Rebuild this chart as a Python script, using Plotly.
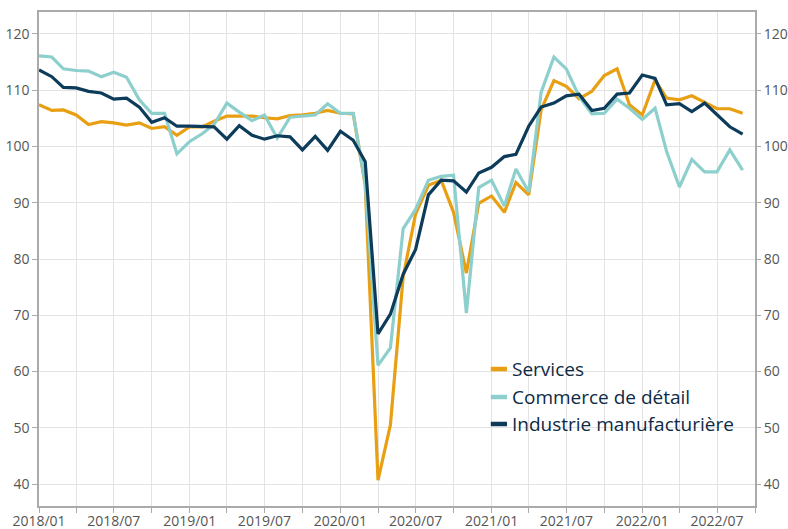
import pandas as pd
import plotly.graph_objects as go

months = pd.date_range("2018-01-01", periods=57, freq="MS")

services = [107.4, 106.4, 106.5, 105.6, 103.9, 104.4, 104.2, 103.8, 104.2, 103.2,
            103.5, 102.0, 103.5, 103.5, 104.5, 105.4, 105.4, 105.4, 105.1, 104.9,
            105.5, 105.6, 105.9, 106.4, 105.9, 105.8, 93.1, 40.7, 50.5, 76.9,
            88.0, 93.1, 94.0, 88.3, 77.5, 89.9, 91.2, 88.3, 93.6, 91.4,
            106.5, 111.7, 110.7, 108.5, 109.8, 112.6, 113.8, 107.4, 105.6, 111.8,
            108.6, 108.3, 109.0, 107.8, 106.7, 106.7, 105.9]

commerce = [116.1, 115.9, 113.8, 113.5, 113.4, 112.4, 113.2, 112.3, 108.3, 105.9,
            105.9, 98.7, 100.9, 102.3, 103.9, 107.7, 106.1, 104.6, 105.6, 101.5,
            105.2, 105.4, 105.6, 107.6, 105.9, 105.9, 93.4, 61.1, 64.2, 85.4,
            88.8, 94.0, 94.7, 94.9, 70.4, 92.7, 94.0, 89.4, 96.0, 91.9,
            109.6, 115.9, 113.8, 108.9, 105.8, 105.9, 108.4, 106.8, 104.8, 106.8,
            99.1, 92.8, 97.7, 95.5, 95.5, 99.4, 95.8]

industrie = [113.6, 112.4, 110.5, 110.4, 109.8, 109.5, 108.4, 108.6, 107.0, 104.3,
             105.1, 103.6, 103.6, 103.6, 103.5, 101.3, 103.7, 102.0, 101.3, 101.9,
             101.7, 99.4, 101.8, 99.3, 102.7, 101.1, 97.3, 66.7, 70.2, 77.3,
             81.7, 91.4, 94.0, 93.9, 91.9, 95.3, 96.3, 98.2, 98.6, 103.6,
             107.0, 107.7, 109.0, 109.3, 106.4, 106.8, 109.3, 109.5, 112.7, 112.1,
             107.4, 107.6, 106.2, 107.7, 105.6, 103.5, 102.2]

names = ["Services", "Commerce de détail", "Industrie manufacturière"]
colors = ["#E89F12", "#8DCFCD", "#0D3B5A"]
y_ticks = [40, 50, 60, 70, 80, 90, 100, 110, 120]
y_range = [36.1, 123.9]

fig = go.Figure()
for name, vals, col in zip(names, [services, commerce, industrie], colors):
    fig.add_trace(go.Scatter(x=months, y=vals, name=name, mode="lines",
                             showlegend=False,
                             line=dict(color=col, width=3.2)))
# invisible trace for right axis
fig.add_trace(go.Scatter(x=[months[0]], y=[services[0]], yaxis="y2",
                         showlegend=False, hoverinfo="skip",
                         mode="lines", line=dict(width=0), opacity=0))

# custom legend (short line symbols like the reference)
leg_y = [0.2773, 0.2206, 0.1660]
for name, col, yy in zip(names, colors, leg_y):
    fig.add_shape(type="line", xref="paper", yref="paper",
                  x0=0.631, x1=0.6536, y0=yy, y1=yy,
                  line=dict(color=col, width=4.5))
    fig.add_annotation(xref="paper", yref="paper", x=0.658, y=yy,
                       xanchor="left", yanchor="middle", text=name,
                       showarrow=False,
                       font=dict(family="Open Sans, sans-serif", size=19,
                                 color="#0D2A45"))

axis_font = dict(family="Open Sans, sans-serif", size=14, color="#555555")
fig.update_layout(
    width=788, height=529,
    margin=dict(l=39, r=33, t=12, b=23),
    paper_bgcolor="white", plot_bgcolor="white",
    showlegend=False,
    xaxis=dict(type="date", range=["2018-01-01", "2022-10-01"],
               tick0="2018-01-01", dtick="M6", tickformat="%Y/%m",
               ticks="outside", ticklen=5, tickcolor="#aaaaaa",
               ticklabelstandoff=-4,
               showgrid=True, gridcolor="#e3e3e3", gridwidth=1,
               minor=dict(dtick="M3", showgrid=True, gridcolor="#e3e3e3",
                          ticks="outside", ticklen=5, tickcolor="#aaaaaa"),
               showline=True, linecolor="#aaaaaa", linewidth=1.5, mirror=True,
               tickfont=axis_font, zeroline=False, automargin=False),
    yaxis=dict(range=y_range, tickvals=y_ticks, ticks="outside", ticklen=5,
               tickcolor="#aaaaaa", showgrid=True, gridcolor="#e3e3e3",
               showline=True, linecolor="#aaaaaa", linewidth=1.5, mirror=True,
               tickfont=axis_font, zeroline=False, automargin=False),
    yaxis2=dict(range=y_range, tickvals=y_ticks, overlaying="y", side="right",
                ticks="outside", ticklen=5, tickcolor="#aaaaaa", showgrid=False,
                showline=False, tickfont=axis_font, zeroline=False,
                automargin=False),
)

fig.write_html("out.html")
